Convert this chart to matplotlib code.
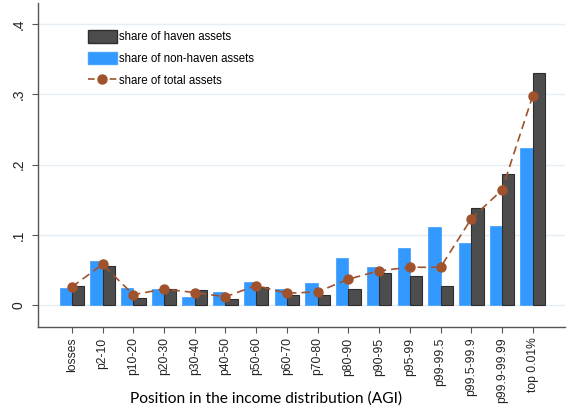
import matplotlib
matplotlib.use("Agg")
import matplotlib.pyplot as plt
import numpy as np
from matplotlib.patches import Patch
from matplotlib.lines import Line2D

categories = ["losses", "p2-10", "p10-20", "p20-30", "p30-40", "p40-50", "p50-60",
              "p60-70", "p70-80", "p80-90", "p90-95", "p95-99", "p99-99.5",
              "p99.5-99.9", "p99.9-99.99", "top 0.01%"]
haven = [0.027, 0.056, 0.010, 0.023, 0.021, 0.009, 0.026, 0.014, 0.014, 0.023,
         0.046, 0.041, 0.028, 0.139, 0.186, 0.330]
nonhaven = [0.025, 0.063, 0.024, 0.023, 0.012, 0.019, 0.033, 0.023, 0.031, 0.067,
            0.054, 0.082, 0.111, 0.088, 0.113, 0.224]
total = [0.026, 0.058, 0.015, 0.023, 0.018, 0.012, 0.028, 0.017, 0.019, 0.037,
         0.049, 0.054, 0.054, 0.123, 0.164, 0.298]
yticks = [0, 0.1, 0.2, 0.3, 0.4]
yticklabels = ["0", ".1", ".2", ".3", ".4"]

plt.rcParams['font.family'] = ['Liberation Sans', 'DejaVu Sans']

fig = plt.figure(figsize=(5.78, 4.12), dpi=100)
ax = fig.add_axes([38/578, 85/412, 527/578, 324/412])

x = np.arange(len(categories))
w = 0.4
blue = "#3399ff"
dark = "#4d4d4d"
brown = "#a0522d"

for yv in yticks:
    ax.axhline(yv, color="#e6eef5", lw=1.0, zorder=0)

ax.bar(x - w/2, nonhaven, width=w, color=blue, edgecolor="#4aa3ff", linewidth=0.6, zorder=2)
ax.bar(x + w/2, haven, width=w, color=dark, edgecolor="#2e2e2e", linewidth=0.8, zorder=2)
ax.plot(x, total, color=brown, lw=1.2, dashes=(5, 3), marker="o", markersize=6.5,
        markerfacecolor=brown, markeredgecolor=brown, zorder=3)

ax.set_xlim(-1.1, 16.05)
ax.set_ylim(-0.031, 0.43)
ax.set_yticks(yticks)
ax.set_yticklabels(yticklabels, rotation=90, va="center", fontsize=10)
ax.set_xticks(x)
ax.set_xticklabels(categories, rotation=90, fontsize=8.7)
for s in ["top", "right"]:
    ax.spines[s].set_visible(False)
for s in ["left", "bottom"]:
    ax.spines[s].set_color("#555555")
    ax.spines[s].set_linewidth(1.0)
ax.tick_params(axis="both", colors="#555555", labelcolor="#222222", length=4, width=0.8)
ax.tick_params(axis="y", pad=5)

handles = [Patch(facecolor=dark, edgecolor="#2e2e2e"),
           Patch(facecolor=blue, edgecolor="#4aa3ff"),
           Line2D([0], [0], color=brown, lw=1.2, dashes=(4, 2.5), marker="o",
                  markersize=6.5, markerfacecolor=brown)]
labels = ["share of haven assets", "share of non-haven assets", "share of total assets"]
ax.legend(handles, labels, loc="upper left", bbox_to_anchor=(0.095, 0.918),
          frameon=False, fontsize=8.3, handlelength=2.5, handleheight=1.35,
          labelspacing=0.75, handletextpad=0.2, borderpad=0, borderaxespad=0)

fig.text(266/578, 1 - 399/412, "Position in the income distribution (AGI)",
         ha="center", va="center", fontsize=11.2, family=["Lato", "DejaVu Sans"])

fig.savefig("out.png", dpi=100)
